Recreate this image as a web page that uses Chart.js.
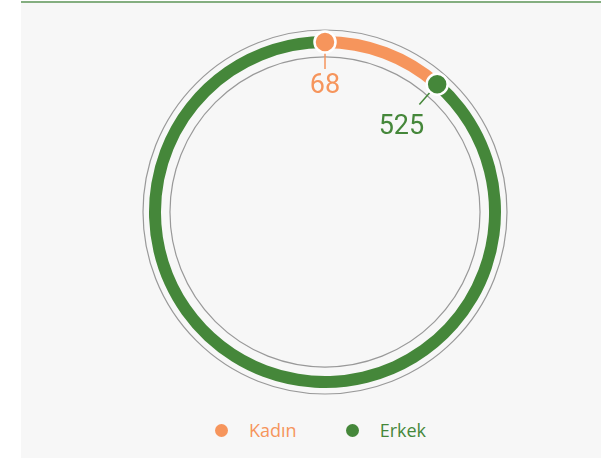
<!DOCTYPE html>
<html>
<head>
<meta charset="utf-8">
<script src="https://cdn.jsdelivr.net/npm/chart.js@4"></script>
<style>
  html, body { margin: 0; padding: 0; background: #fff; }
  #panel {
    position: absolute; left: 21px; top: 1px; width: 580px; height: 455px;
    background: #f7f7f7; border-top: 2px solid #84ae80;
  }
  #chart { position: absolute; left: 0; top: 0; }
  #legend {
    position: absolute; left: 194px; top: 415px;
    display: flex; align-items: center;
    font-family: "Open Sans", sans-serif; font-size: 18px;
  }
  .item { display: flex; align-items: center; margin-right: 49px; }
  .dot { width: 13px; height: 13px; border-radius: 50%; margin-right: 21px; }
</style>
</head>
<body>
<div id="panel">
  <canvas id="chart" width="580" height="410"></canvas>
  <div id="legend"></div>
</div>
<script>
// Veriler
const labels = ['Kadın', 'Erkek'];
const values = [68, 525];
const colors = ['#f6955c', '#45873a'];

// Halka etrafındaki gri çizgiler, noktalar ve değer etiketleri
const ringDecor = {
    id: 'ringDecor',
    beforeDatasetsDraw(chart) {
        const arc = chart.getDatasetMeta(0).data[0];
        if (!arc) return;
        const { x, y, innerRadius, outerRadius } = arc.getProps(['x', 'y', 'innerRadius', 'outerRadius'], true);
        const ctx = chart.ctx;
        ctx.save();
        ctx.strokeStyle = '#999999';
        ctx.lineWidth = 1.2;
        [outerRadius + 6, innerRadius - 9].forEach(r => {
            ctx.beginPath();
            ctx.arc(x, y, r, 0, Math.PI * 2);
            ctx.stroke();
        });
        ctx.restore();
    },
    afterDatasetsDraw(chart) {
        const ctx = chart.ctx;
        const meta = chart.getDatasetMeta(0);
        ctx.save();
        ctx.font = '27px Roboto, sans-serif';
        meta.data.forEach((arc, i) => {
            const p = arc.getProps(['x', 'y', 'startAngle', 'innerRadius', 'outerRadius'], true);
            const r = (p.innerRadius + p.outerRadius) / 2;
            const ux = Math.cos(p.startAngle), uy = Math.sin(p.startAngle);
            const dx = p.x + ux * r, dy = p.y + uy * r;

            // çizgi
            ctx.strokeStyle = colors[i];
            ctx.lineWidth = 1.5;
            ctx.beginPath();
            ctx.moveTo(dx, dy);
            ctx.lineTo(dx - ux * 27, dy - uy * 27);
            ctx.stroke();

            // nokta
            ctx.beginPath();
            ctx.arc(dx, dy, 10.5, 0, Math.PI * 2);
            ctx.fillStyle = colors[i];
            ctx.fill();
            ctx.lineWidth = 2.5;
            ctx.strokeStyle = '#ffffff';
            ctx.stroke();

            // etiket
            const text = String(values[i]);
            const w = ctx.measureText(text).width;
            const h = 19;
            const ext = Math.abs(ux) * w / 2 + Math.abs(uy) * h / 2;
            const cx = dx - ux * (32 + ext), cy = dy - uy * (32 + ext);
            ctx.fillStyle = colors[i];
            ctx.textAlign = 'center';
            ctx.textBaseline = 'alphabetic';
            ctx.fillText(text, cx, cy + h / 2);
        });
        ctx.restore();
    }
};

const chart = new Chart(document.getElementById('chart'), {
    type: 'doughnut',
    data: {
        labels: labels,
        datasets: [{
            data: values,
            backgroundColor: colors,
            borderWidth: 0
        }]
    },
    options: {
        responsive: false,
        animation: false,
        radius: 176,
        cutout: '93.2%',
        layout: { padding: { left: 28, right: 0, top: 8, bottom: 0 } },
        plugins: {
            legend: { display: false },
            tooltip: { enabled: false }
        }
    },
    plugins: [ringDecor]
});

// Lejant
const legendEl = document.getElementById('legend');
labels.forEach((label, i) => {
    const item = document.createElement('div');
    item.className = 'item';
    item.innerHTML = `<span class="dot" style="background:${colors[i]}"></span><span style="color:${colors[i]}">${label}</span>`;
    legendEl.appendChild(item);
});
</script>
</body>
</html>
